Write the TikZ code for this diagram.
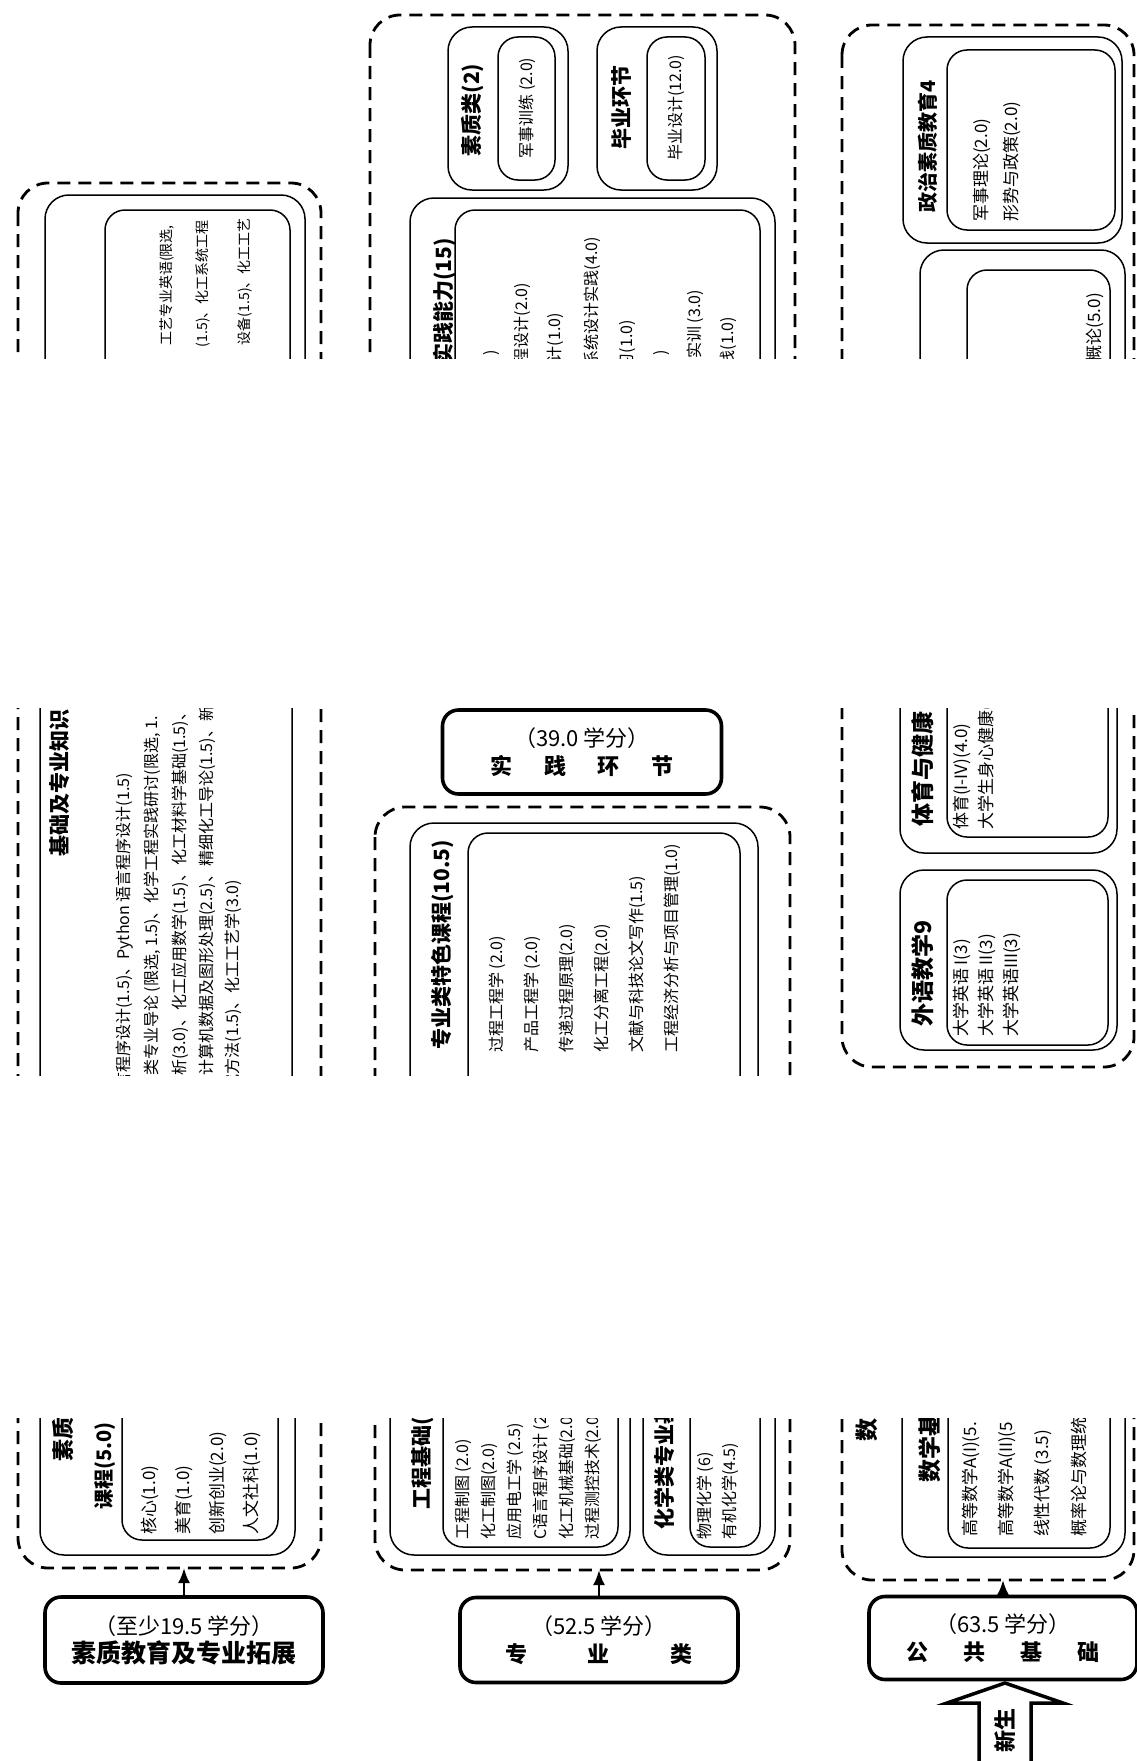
\documentclass[tikz,border=0pt]{standalone}
\usepackage{fontspec}
\setmainfont{Noto Sans CJK SC}
\usetikzlibrary{arrows.meta}

\begin{document}
\begin{tikzpicture}[x=1pt, y=-1pt,
    >={Latex[length=15pt, width=12pt]}, %Pfeilspitzen
    rahmen/.style={line width=2.8pt, dash pattern=on 13pt off 8pt, rounded corners=30pt},
    gruppe/.style={line width=1.5pt, rounded corners=24pt},
    liste/.style={line width=1.5pt, rounded corners=20pt},
    kredit/.style={draw, line width=3.6pt, rounded corners=16pt, minimum height=84pt, align=center, font=\fontsize{22}{28}\selectfont},
    titel/.style={rotate=90, inner sep=0pt, font=\bfseries\fontsize{21}{24}\selectfont},
    punkt/.style={rotate=90, inner sep=0pt, font=\fontsize{16}{18}\selectfont}]
  \useasboundingbox (0,0) rectangle (1137,1761);

  %Streifen oben
  \begin{scope}
    \clip (0,0) rectangle (1137,358);
    % linke Spalte
    \draw[rahmen] (18,183) rectangle (321,1568);
    \draw[gruppe] (45,195) rectangle (305,700);
    \draw[liste] (105,210) rectangle (290,690);
    \foreach \x/\y/\t [count=\i] in {167/225/{工艺专业英语(限选,}, 203/220/{(1.5)、化工系统工程}, 245/218/{设备(1.5)、化工工艺}}
      \node[punkt, anchor=east, font=\fontsize{14}{16}\selectfont] (zy\i) at (\x,\y) {\t};
    % mittlere Spalte
    \draw[rahmen] (370,15) rectangle (795,690);
    \draw[gruppe] (448,27) rectangle (568,190);
    \draw[liste] (498,37) rectangle (555,180);
    \node[titel] (suzhi) at (473,110) {素质类(2)};
    \node[punkt] (junxun) at (527,108) {军事训练 (2.0)};
    \draw[gruppe] (597,27) rectangle (717,190);
    \draw[liste] (647,37) rectangle (705,180);
    \node[titel] (biye) at (622,107) {毕业环节};
    \node[punkt] (bysj) at (676,108) {毕业设计(12.0)};
    \draw[gruppe] (410,198) rectangle (775,680);
    \draw[liste] (455,210) rectangle (760,670);
    \node[titel, anchor=east] (nengli) at (445,238) {实践能力(15)};
    \foreach \x/\y/\t [count=\i] in {492/350/), 522/283/程设计(2.0), 555/313/计(1.0), 592/237/系统设计实践(4.0),
        628/320/习(1.0), 662/350/), 695/290/实训 (3.0), 728/317/践(1.0)}
      \node[punkt, anchor=east] (sj\i) at (\x,\y) {\t};
    % rechte Spalte
    \draw[rahmen] (842,25) rectangle (1134,1067);
    \draw[gruppe] (903,37) rectangle (1122,243);
    \draw[liste] (947,50) rectangle (1115,230);
    \node[titel, anchor=west, font=\bfseries\fontsize{20}{22}\selectfont] (zhengzhi) at (928,213) {政治素质教育4};
    \foreach \t [count=\i] in {军事理论(2.0), 形势与政策(2.0)}
      \node[punkt, anchor=west, font=\fontsize{17}{19}\selectfont] (zz\i) at ({952+30*\i},222) {\t};
    \draw[gruppe] (920,250) rectangle (1125,700);
    \draw[liste] (967,270) rectangle (1110,690);
    \node[punkt, anchor=east, font=\fontsize{17}{19}\selectfont] (gailun) at (1095,293) {概论(5.0)};
  \end{scope}

  %Streifen Mitte
  \begin{scope}
    \clip (0,708) rectangle (1137,1075);
    % linke Spalte
    \draw[rahmen] (18,183) rectangle (321,1568);
    \draw[gruppe] (40,650) rectangle (292,1200);
    \node[titel, anchor=west] (jichu) at (60,857) {基础及专业知识};
    \node[punkt, anchor=east] (zs1) at (125,773) {言程序设计(1.5)、Python 语言程序设计(1.5)};
    \node[punkt, anchor=west] (zs2) at (152,1076) {类专业导论 (限选, 1.5)、化学工程实践研讨(限选, 1.};
    \node[punkt, anchor=west] (zs3) at (180,1076) {析(3.0)、化工应用数学(1.5)、化工材料学基础(1.5)、};
    \node[punkt, anchor=west] (zs4) at (207,1076) {计算机数据及图形处理(2.5)、精细化工导论(1.5)、新能};
    \node[punkt, anchor=east] (zs5) at (233,880) {究方法(1.5)、化工工艺学(3.0)};
    % mittlere Spalte
    \node[kredit, minimum width=279pt] (praxis) at (582,752) {（39.0 学分）\\ \textbf{实\hspace{1.45em}践\hspace{1.45em}环\hspace{1.45em}节}};
    \draw[rahmen] (375,807) rectangle (790,1570);
    \draw[gruppe] (410,823) rectangle (758,1200);
    \draw[liste] (468,833) rectangle (740,1190);
    \node[titel, anchor=west] (tese) at (443,1050) {专业类特色课程(10.5)};
    \foreach \t [count=\i] in {过程工程学 (2.0), 产品工程学 (2.0), 传递过程原理(2.0), 化工分离工程(2.0),
        文献与科技论文写作(1.5), 工程经济分析与项目管理(1.0)}
      \node[punkt, anchor=west] (ts\i) at ({462+35*\i},1053) {\t};
    % rechte Spalte
    \draw[rahmen] (842,25) rectangle (1134,1067);
    \draw[gruppe] (900,600) rectangle (1117,853);
    \draw[liste] (947,600) rectangle (1108,837);
    \node[titel, anchor=west, font=\bfseries\fontsize{23}{25}\selectfont] (tiyu) at (923,827) {体育与健康};
    \foreach \t [count=\i] in {体育(I-IV)(4.0), 大学生身心健康(1}
      \node[punkt, anchor=west, font=\fontsize{17}{19}\selectfont] (ty\i) at ({937+25*\i},830) {\t};
    \draw[gruppe] (900,870) rectangle (1117,1050);
    \draw[liste] (947,880) rectangle (1108,1045);
    \node[titel, anchor=west, font=\bfseries\fontsize{23}{25}\selectfont] (waiyu) at (923,1027) {外语教学9};
    \foreach \t [count=\i] in {大学英语 I(3), 大学英语 II(3), 大学英语III(3)}
      \node[punkt, anchor=west, font=\fontsize{17}{19}\selectfont] (wy\i) at ({937+25*\i},1037) {\t};
  \end{scope}

  %Streifen unten
  \begin{scope}
    \clip (0,1418) rectangle (1137,1761);
    % linke Spalte
    \draw[rahmen] (18,183) rectangle (321,1568);
    \draw[gruppe] (40,1200) rectangle (295,1555);
    \draw[liste] (122,1200) rectangle (278,1540);
    \node[titel, anchor=west, font=\bfseries\fontsize{22}{24}\selectfont] (sz) at (63,1462) {素质};
    \node[titel, anchor=west, font=\bfseries\fontsize{20}{22}\selectfont] (kc) at (105,1510) {课程(5.0)};
    \foreach \t [count=\i] in {核心(1.0), 美育(1.0), 创新创业(2.0), 人文社科(1.0)}
      \node[punkt, anchor=west, font=\fontsize{17}{19}\selectfont] (tz\i) at ({116+34*\i},1535) {\t};
    \coordinate (lu) at (184,1568);
    \node[kredit, minimum width=278pt, minimum height=86pt] (qual) at (184,1640)
      {（至少19.5 学分）\\ \textbf{\fontsize{25}{28}\selectfont 素质教育及专业拓展}};
    \draw[->, line width=2.4pt] (qual) -- (lu);
    % mittlere Spalte
    \draw[rahmen] (375,807) rectangle (790,1570);
    \draw[gruppe] (390,1300) rectangle (630,1555);
    \draw[liste] (443,1300) rectangle (618,1547);
    \node[titel, anchor=west] (gc) at (423,1510) {工程基础(};
    \foreach \t [count=\i] in {工程制图 (2.0), 化工制图(2.0), 应用电工学 (2.5), C语言程序设计 (2, 化工机械基础(2.0, 过程测控技术(2.0}
      \node[punkt, anchor=west] (gc\i) at ({437+26*\i},1540) {\t};
    \draw[gruppe] (643,1300) rectangle (775,1555);
    \draw[liste] (690,1300) rectangle (760,1547);
    \node[titel, anchor=west] (hx) at (665,1530) {化学类专业基};
    \foreach \t [count=\i] in {物理化学 (6), 有机化学(4.5)}
      \node[punkt, anchor=west] (hx\i) at ({680+25*\i},1540) {\t};
    \coordinate (mu) at (599,1570);
    \node[kredit, minimum width=278pt, minimum height=85pt] (fach) at (599,1640)
      {（52.5 学分）\\ \textbf{专\hspace{2.75em}业\hspace{2.75em}类}};
    \draw[->, line width=2.4pt] (fach) -- (mu);
    % rechte Spalte
    \draw[rahmen] (842,1200) rectangle (1134,1580);
    \draw[gruppe] (902,1300) rectangle (1125,1557);
    \draw[liste] (948,1300) rectangle (1110,1548);
    \node[titel, anchor=west, font=\bfseries\fontsize{23}{25}\selectfont] (sx) at (867,1442) {数};
    \node[titel, anchor=west, font=\bfseries\fontsize{23}{25}\selectfont] (sxj) at (930,1483) {数学基};
    \foreach \t [count=\i] in {高等数学A(I)(5., 高等数学A(II)(5, 线性代数 (3.5), 概率论与数理统}
      \node[punkt, anchor=west, font=\fontsize{17}{19}\selectfont] (sx\i) at ({935+36*\i},1537) {\t};
    \coordinate (ru) at (1003,1580);
    \node[kredit, minimum width=268pt, minimum height=83pt] (pub) at (1003,1638)
      {（63.5 学分）\\ \textbf{公\hspace{1.6em}共\hspace{1.6em}基\hspace{1.6em}础}};
    \draw[->, line width=2.4pt] (pub) -- (ru);
    % Pfeil Neue
    \draw[line width=3.5pt] (1005,1683) -- (1063,1703) -- (1031,1703) -- (1031,1775)
      -- (979,1775) -- (979,1703) -- (947,1703) -- cycle;
    \node[titel, font=\bfseries\fontsize{22}{24}\selectfont] (xinsheng) at (1005,1730) {新生};
  \end{scope}
\end{tikzpicture}
\end{document}
